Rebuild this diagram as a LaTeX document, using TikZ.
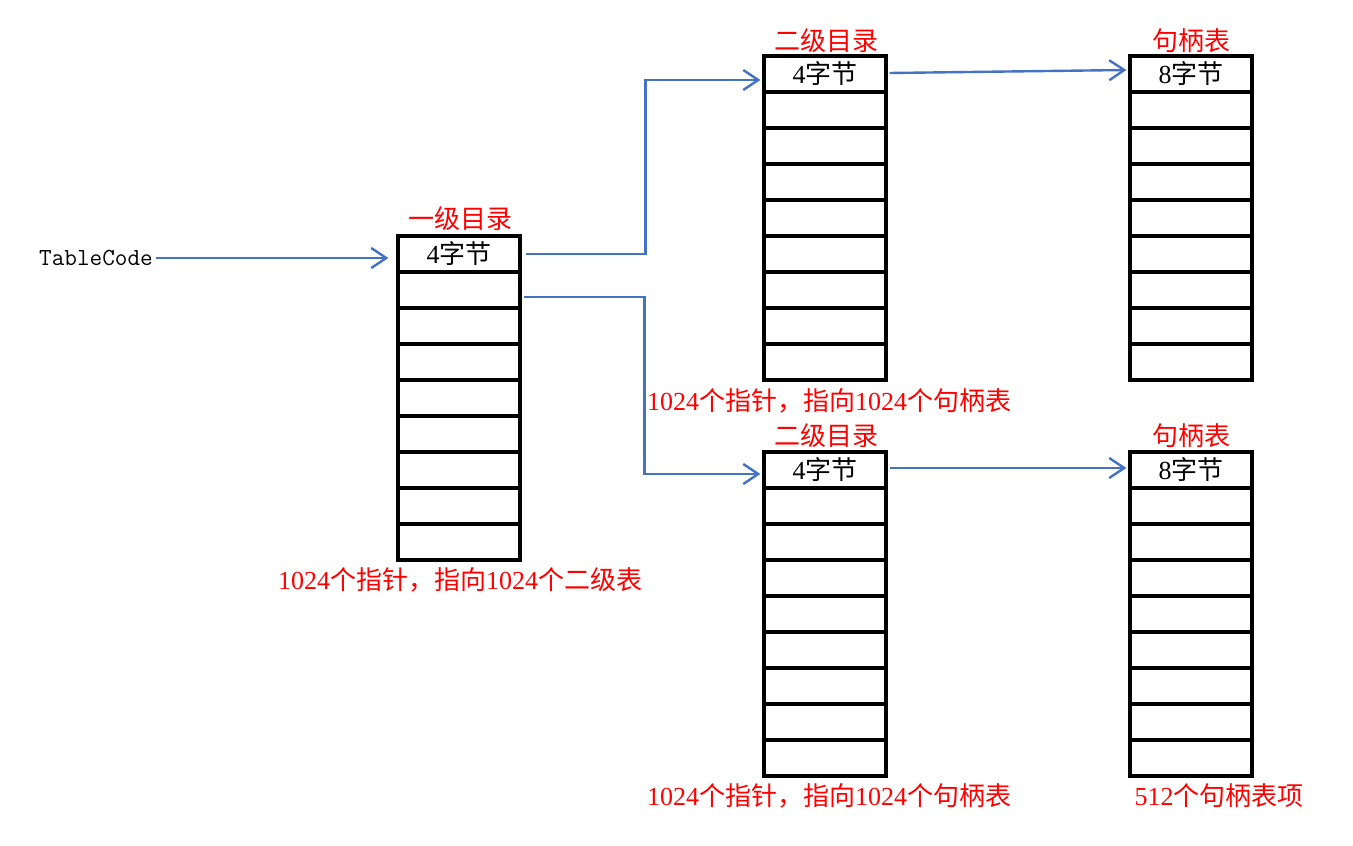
\documentclass[tikz,border=0pt]{standalone}
\usepackage{fontspec}
\setmainfont{Liberation Serif}
\newfontfamily\cjk{Noto Sans CJK SC}
\usetikzlibrary{arrows.meta}
\newcommand{\zh}[1]{{\cjk #1}}
\definecolor{azul}{HTML}{4472C4}

\begin{document}
\begin{tikzpicture}[
        x=1pt, y=-1pt,
        >={Straight Barb[length=15pt,width=20pt]},
        celula/.style={draw, line width=3.2pt, minimum width=122pt, minimum height=36pt, inner sep=0pt},
        rotulo/.style={text=red},
        seta/.style={->, draw=azul, line width=2.4pt},
        every node/.style={font=\fontsize{26}{30}\selectfont}
    ]

        \useasboundingbox (0,0) rectangle (1353,846);

        % ==================================================
        % TABELAS
        % ==================================================

        % Primeira linha de cada tabela
        \node[celula] (a0) at (459,254) {4\zh{字节}};
        \node[celula] (b0) at (825,74)  {4\zh{字节}};
        \node[celula] (c0) at (1191,74) {8\zh{字节}};
        \node[celula] (d0) at (825,470) {4\zh{字节}};
        \node[celula] (e0) at (1191,470) {8\zh{字节}};

        % Linhas vazias
        \foreach \t/\x/\y in {a/459/254, b/825/74, c/1191/74, d/825/470, e/1191/470}
            \foreach \i in {1,...,8}
                \node[celula] (\t\i) at (\x,\y+36*\i) {};

        % Titulos
        \node[rotulo] (ta) at (460,219)  {\zh{一级目录}};
        \node[rotulo] (tb) at (826,41)   {\zh{二级目录}};
        \node[rotulo] (tc) at (1191,41)  {\zh{句柄表}};
        \node[rotulo] (td) at (826,436)  {\zh{二级目录}};
        \node[rotulo] (te) at (1191,436) {\zh{句柄表}};

        % Notas
        \node[rotulo] (na) at (460,580)  {1024\zh{个指针，指向}1024\zh{个二级表}};
        \node[rotulo] (nb) at (829,401)  {1024\zh{个指针，指向}1024\zh{个句柄表}};
        \node[rotulo] (nd) at (829,796)  {1024\zh{个指针，指向}1024\zh{个句柄表}};
        \node[rotulo] (ne) at (1219,796) {512\zh{个句柄表项}};

        \node (codigo) at (96,258) {\ttfamily\fontsize{24.5}{28}\selectfont TableCode};

        % Setas
        \draw[seta] (codigo.east) -- ([xshift=-8pt,yshift=-4pt]a0.west);
        \draw[seta] ([xshift=4pt]a0.east) -- ++(120,0) |- ([xshift=-2pt,yshift=-6pt]b0.west);
        \draw[seta] ([xshift=2pt,yshift=-7pt]a1.east) -- ++(121,0) |- ([xshift=-2pt,yshift=-4pt]d0.west);
        \draw[seta] ([xshift=2pt,yshift=1pt]b0.east) -- ([xshift=-2pt,yshift=4pt]c0.west);
        \draw[seta] ([xshift=2pt,yshift=2pt]d0.east) -- ([xshift=-2pt,yshift=2pt]e0.west);
    \end{tikzpicture}
\end{document}
